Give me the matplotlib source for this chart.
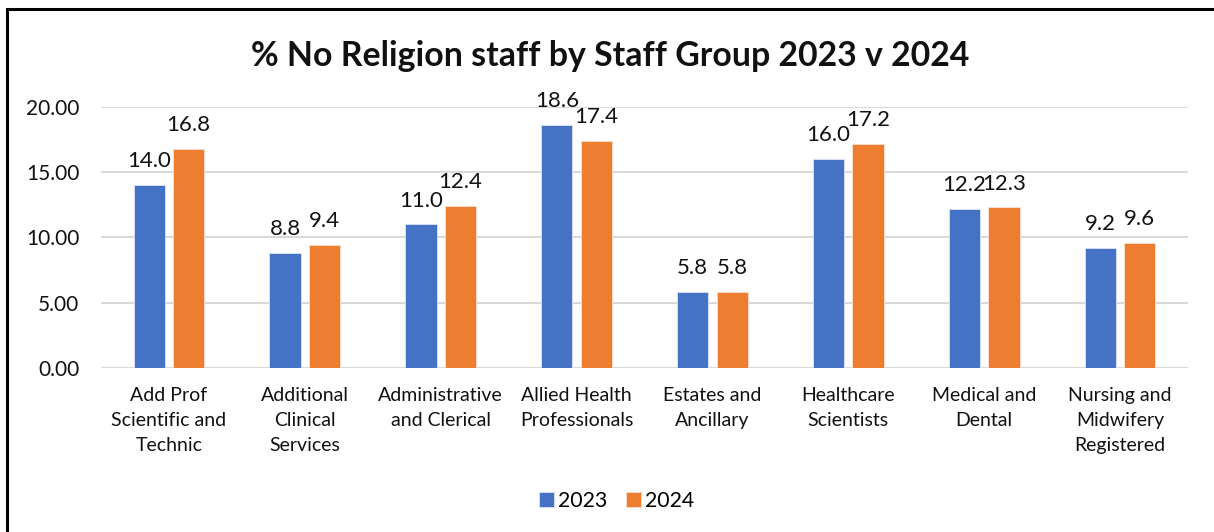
import numpy as np
import matplotlib
matplotlib.use("Agg")
import matplotlib.pyplot as plt
from matplotlib.patches import Rectangle

plt.rcParams['font.family'] = ['Lato', 'DejaVu Sans']

groups = ["Add Prof\nScientific and\nTechnic", "Additional\nClinical\nServices",
          "Administrative\nand Clerical", "Allied Health\nProfessionals",
          "Estates and\nAncillary", "Healthcare\nScientists",
          "Medical and\nDental", "Nursing and\nMidwifery\nRegistered"]
pct_2023 = [14.0, 8.8, 11.0, 18.6, 5.8, 16.0, 12.2, 9.2]
pct_2024 = [16.8, 9.4, 12.4, 17.4, 5.8, 17.2, 12.3, 9.6]
yticks = [0, 5, 10, 15, 20]

blue = '#4472C4'
orange = '#ED7D31'

fig = plt.figure(figsize=(12.14, 5.32), dpi=100)
ax = fig.add_axes([0.0832, 0.3083, 0.8954, 0.4906])

x = np.arange(len(groups))
w = 0.23
gap = 0.03
b1 = ax.bar(x - w/2 - gap, pct_2023, w, color=blue, edgecolor='#dde4f3', linewidth=0.6, label='2023', zorder=3)
b2 = ax.bar(x + w/2 + gap, pct_2024, w, color=orange, edgecolor='#fbe0d0', linewidth=0.6, label='2024', zorder=3)

for bars, vals in ((b1, pct_2023), (b2, pct_2024)):
    for r, v in zip(bars, vals):
        ax.annotate(f'{v:.1f}', (r.get_x() + r.get_width()/2, r.get_height()),
                    xytext=(0, 10), textcoords='offset points', ha='center', va='bottom',
                    fontsize=16, color='#111111', annotation_clip=False)

ax.set_xlim(-0.5, len(groups) - 0.5)
ax.set_ylim(0, 20)
ax.set_yticks(yticks)
ax.set_yticklabels([f'{t:.2f}' for t in yticks], fontsize=15)
ax.set_xticks(x)
ax.set_xticklabels(groups, fontsize=14, linespacing=1.58)
ax.tick_params(axis='both', length=0, colors='#111111')
ax.tick_params(axis='y', pad=15.5)
ax.tick_params(axis='x', pad=13.5)
ax.grid(axis='y', color='#d9d9d9', linewidth=1.5, zorder=0)
for s in ax.spines.values():
    s.set_visible(False)

fig.text(0.503, 0.895, '% No Religion staff by Staff Group 2023 v 2024',
         ha='center', va='center', fontsize=24.4, fontweight='bold', color='#111111')

fig.legend(handles=[b1, b2], loc='center', bbox_to_anchor=(0.508, 0.058), ncol=2,
           frameon=False, fontsize=15.3, handlelength=0.7, handleheight=0.7,
           handletextpad=0.22, columnspacing=0.85)

# outer frame (left and top edges visible)
fig.patches.append(Rectangle((6.5/1214, -0.1), 1.2, 1 - 9/532 + 0.1,
                             transform=fig.transFigure, fill=False,
                             edgecolor='black', linewidth=2.2, clip_on=False))

fig.savefig('out.png', dpi=100)
